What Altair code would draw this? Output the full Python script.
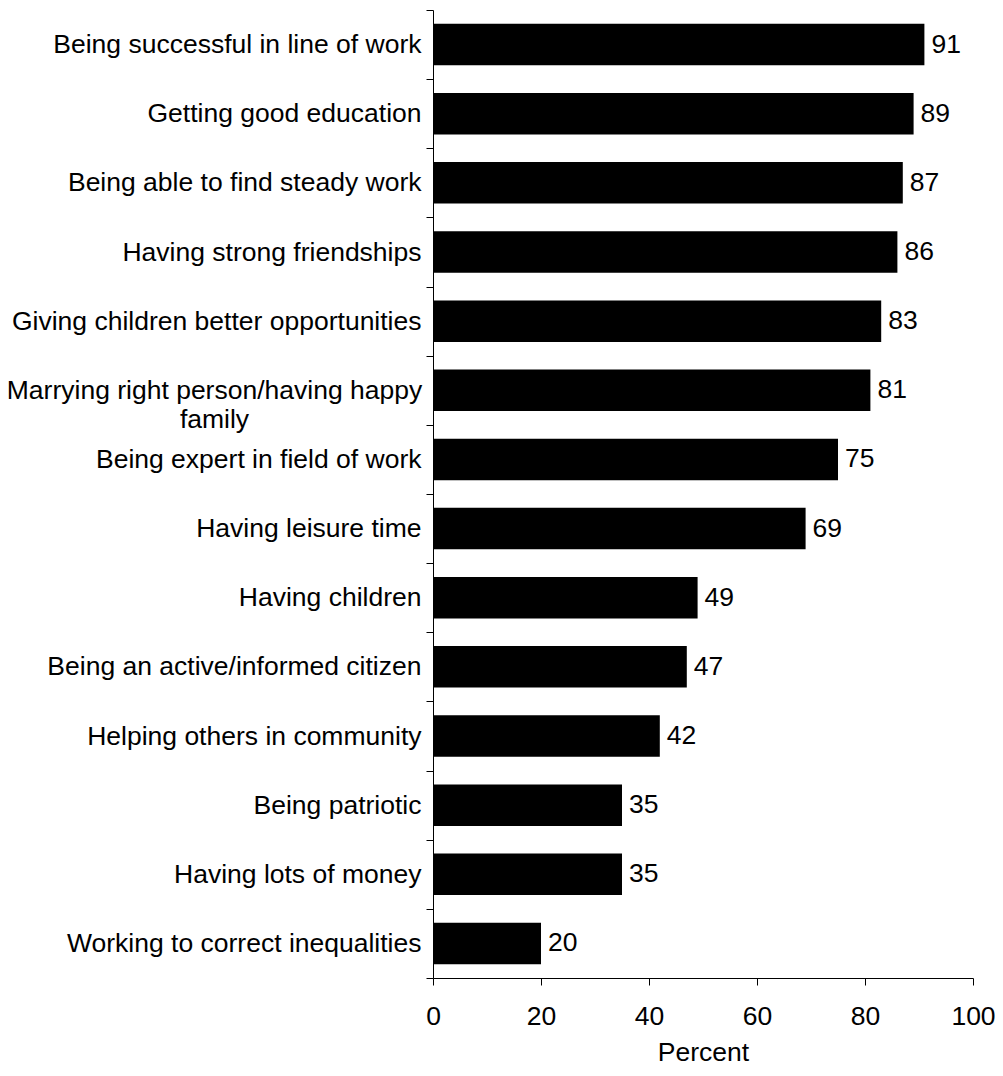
import altair as alt
import pandas as pd

categories = [
    "Being successful in line of work",
    "Getting good education",
    "Being able to find steady work",
    "Having strong friendships",
    "Giving children better opportunities",
    "Marrying right person/having happy family",
    "Being expert in field of work",
    "Having leisure time",
    "Having children",
    "Being an active/informed citizen",
    "Helping others in community",
    "Being patriotic",
    "Having lots of money",
    "Working to correct inequalities",
]
values = [91, 89, 87, 86, 83, 81, 75, 69, 49, 47, 42, 35, 35, 20]
x_ticks = [0, 20, 40, 60, 80, 100]
x_title = "Percent"

WRAP = "Marrying right person/having happy family"
WRAP_LINES = ["Marrying right person/having happy", "family"]

df = pd.DataFrame({"category": categories, "value": values})

FONT = "Liberation Sans"
FS = 26.5

wrap_test = f"datum.value == '{WRAP}'"
label_expr = (
    f"datum.value == '{WRAP}' ? ['{WRAP_LINES[0]}', '{WRAP_LINES[1]}'] : datum.label"
)

y_enc = alt.Y(
    "category:N",
    sort=categories,
    title=None,
    scale=alt.Scale(paddingInner=0, paddingOuter=0),
    axis=alt.Axis(
        tickBand="extent",
        tickSize=7,
        tickColor="black",
        domainColor="black",
        labelColor="black",
        labelFont=FONT,
        labelFontSize=FS,
        labelLimit=600,
        labelLineHeight=29,
        labelExpr=label_expr,
        labelAlign={"condition": {"test": wrap_test, "value": "center"}, "value": "right"},
        labelPadding={"condition": {"test": wrap_test, "value": 212}, "value": 5},
        labelBaseline="middle",
    ),
)

x_enc = alt.X(
    "value:Q",
    title=x_title,
    scale=alt.Scale(domain=[0, 100], nice=False),
    axis=alt.Axis(
        values=x_ticks,
        grid=False,
        tickSize=7,
        tickColor="black",
        domainColor="black",
        labelColor="black",
        labelFont=FONT,
        labelFontSize=FS,
        labelPadding=18,
        labelFlush=False,
        titleFont=FONT,
        titleFontSize=FS,
        titleFontWeight="normal",
        titleColor="black",
        titlePadding=10,
    ),
)

bars = alt.Chart(df).mark_bar(
    color="black", height=alt.RelativeBandSize(0.6)
).encode(x=x_enc, y=y_enc)

texts = alt.Chart(df).mark_text(
    align="left", baseline="middle", dx=7, font=FONT, fontSize=FS, color="black"
).encode(
    x=alt.X("value:Q"),
    y=alt.Y("category:N", sort=categories),
    text=alt.Text("value:Q"),
)

chart = (
    alt.layer(bars, texts)
    .properties(
        width=540,
        height=968,
        autosize=alt.AutoSizeParams(type="none"),
        padding={"left": 425, "top": 2, "right": 22, "bottom": 90},
    )
    .configure_view(stroke=None)
)

chart.save("out.html", embed_options={"renderer": "svg", "actions": False})
